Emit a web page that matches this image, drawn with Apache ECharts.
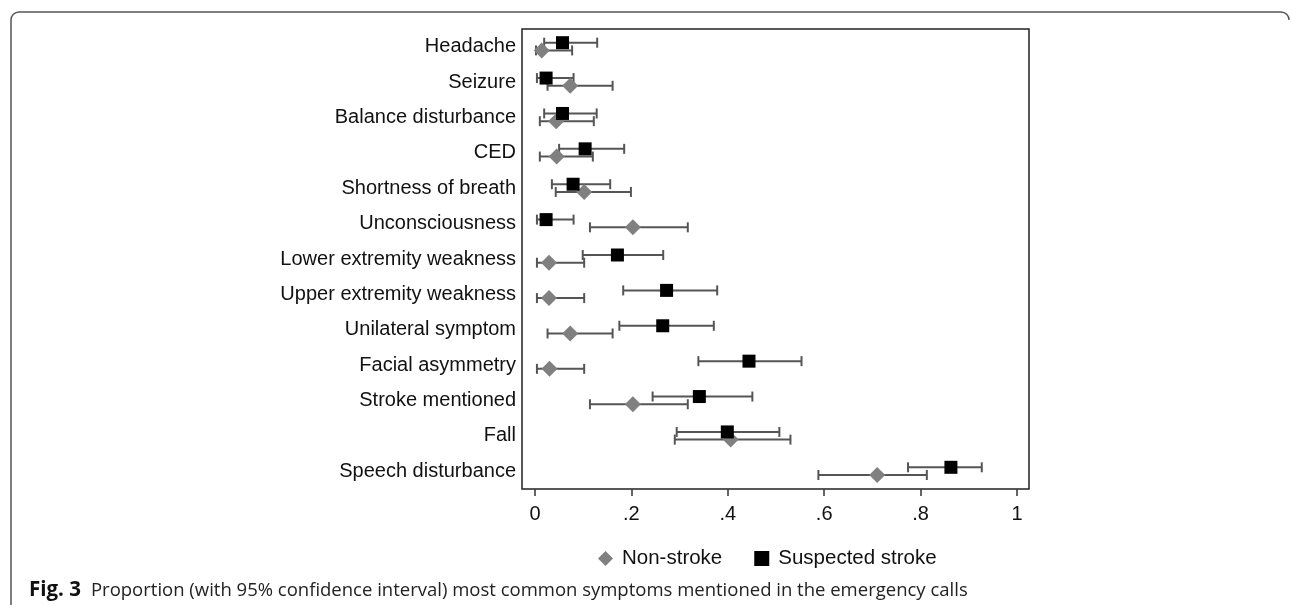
<!DOCTYPE html>
<html>
<head>
<meta charset="utf-8">
<script src="https://cdn.jsdelivr.net/npm/echarts@6/dist/echarts.min.js"></script>
<style>html,body{margin:0;padding:0;background:#fff}#c{width:1292px;height:605px}</style>
</head>
<body>
<div id="c"></div>
<script>
const categories = ['Headache','Seizure','Balance disturbance','CED','Shortness of breath','Unconsciousness','Lower extremity weakness','Upper extremity weakness','Unilateral symptom','Facial asymmetry','Stroke mentioned','Fall','Speech disturbance'];
const nonStroke     = [0.014, 0.073, 0.044, 0.045, 0.102, 0.203, 0.029, 0.029, 0.073, 0.030, 0.203, 0.406, 0.710];
const nonStrokeLow  = [0.002, 0.026, 0.010, 0.010, 0.043, 0.114, 0.004, 0.004, 0.026, 0.004, 0.114, 0.290, 0.588];
const nonStrokeHigh = [0.077, 0.161, 0.122, 0.120, 0.199, 0.317, 0.102, 0.102, 0.161, 0.102, 0.317, 0.530, 0.813];
const suspected     = [0.057, 0.023, 0.057, 0.104, 0.079, 0.023, 0.171, 0.273, 0.265, 0.444, 0.341, 0.399, 0.863];
const suspectedLow  = [0.019, 0.004, 0.019, 0.050, 0.035, 0.004, 0.099, 0.183, 0.175, 0.339, 0.244, 0.294, 0.774];
const suspectedHigh = [0.129, 0.080, 0.128, 0.185, 0.156, 0.080, 0.266, 0.378, 0.371, 0.553, 0.451, 0.507, 0.927];
const xTicks = [0, 0.2, 0.4, 0.6, 0.8, 1];
const seriesNames = ['Non-stroke', 'Suspected stroke'];
const captionLabel = 'Fig. 3';
const captionText = 'Proportion (with 95% confidence interval) most common symptoms mentioned in the emergency calls';

const FONT = '"Liberation Sans", Arial, sans-serif';
const CAPFONT = '"Open Sans", "Noto Sans", sans-serif';
const chart = echarts.init(document.getElementById('c'), null, {renderer: 'canvas'});

function errorBar(dy, color) {
  return function (params, api) {
    const cat = api.value(2);
    const a = api.coord([api.value(0), cat]);
    const b = api.coord([api.value(1), cat]);
    const y = a[1] + dy;
    const h = 5;
    const st = {stroke: color, lineWidth: 2};
    return {
      type: 'group',
      children: [
        {type: 'line', shape: {x1: a[0], y1: y, x2: b[0], y2: y}, style: st},
        {type: 'line', shape: {x1: a[0], y1: y - h, x2: a[0], y2: y + h}, style: st},
        {type: 'line', shape: {x1: b[0], y1: y - h, x2: b[0], y2: y + h}, style: st}
      ]
    };
  };
}

const nsOff = 3.7, ssOff = -4;
const frameStyle = {fill: null, stroke: '#555', lineWidth: 1.5};

chart.setOption({
  animation: false,
  backgroundColor: '#fff',
  grid: {left: 522, right: 263, top: 29, bottom: 116, show: true, borderColor: '#222', borderWidth: 1.5, backgroundColor: 'transparent'},
  xAxis: {
    type: 'value', min: -0.027, max: 1.025,
    axisLine: {show: false},
    splitLine: {show: false},
    axisTick: {show: true, length: 7, lineStyle: {color: '#333', width: 1.5}, customValues: xTicks},
    axisLabel: {
      customValues: xTicks, margin: 15, color: '#111', fontSize: 20, fontFamily: FONT,
      formatter: v => (v === 0 ? '0' : v === 1 ? '1' : String(+v.toFixed(1)).replace(/^0/, ''))
    }
  },
  yAxis: {
    type: 'category', data: categories, inverse: true,
    axisLine: {show: false}, axisTick: {show: false}, splitLine: {show: false},
    axisLabel: {margin: 6, color: '#111', fontSize: 20, fontFamily: FONT}
  },
  legend: {
    data: [{name: seriesNames[0], icon: 'diamond'}, {name: seriesNames[1], icon: 'rect'}],
    left: 593, top: 543, itemWidth: 15, itemHeight: 15, itemGap: 32,
    textStyle: {fontSize: 20.5, color: '#111', fontFamily: FONT, padding: [0, 0, 0, 4]}
  },
  title: {
    left: 29, top: 580, padding: 0,
    text: '{b|' + captionLabel + '}  {n|' + captionText + '}',
    textStyle: {
      fontWeight: 'normal',
      rich: {
        b: {fontWeight: 'bold', fontSize: 20.5, color: '#111', fontFamily: CAPFONT},
        n: {fontWeight: 'normal', fontSize: 18.5, color: '#222', fontFamily: CAPFONT}
      }
    }
  },
  graphic: [
    {type: 'polyline', silent: true, shape: {points: [[11, 605], [11, 20]]}, style: frameStyle},
    {type: 'polyline', silent: true, shape: {points: [[19, 12], [1281, 12]]}, style: frameStyle},
    {type: 'arc', silent: true, shape: {cx: 19, cy: 20, r: 8, startAngle: Math.PI, endAngle: Math.PI * 1.5}, style: frameStyle},
    {type: 'arc', silent: true, shape: {cx: 1281, cy: 20, r: 8, startAngle: Math.PI * 1.5, endAngle: Math.PI * 2}, style: frameStyle}
  ],
  series: [
    {type: 'custom', name: 'nsci', renderItem: errorBar(nsOff, '#555'), encode: {x: [0, 1], y: 2},
     data: nonStrokeLow.map((l, i) => [l, nonStrokeHigh[i], i]), z: 2},
    {type: 'custom', name: 'ssci', renderItem: errorBar(ssOff, '#555'), encode: {x: [0, 1], y: 2},
     data: suspectedLow.map((l, i) => [l, suspectedHigh[i], i]), z: 2},
    {type: 'scatter', name: seriesNames[0], symbol: 'diamond', symbolSize: [16, 16], symbolOffset: [0, nsOff],
     itemStyle: {color: '#808080', opacity: 1}, data: nonStroke.map((v, i) => [v, i]), z: 3},
    {type: 'scatter', name: seriesNames[1], symbol: 'rect', symbolSize: 13, symbolOffset: [0, ssOff],
     itemStyle: {color: '#000', opacity: 1}, data: suspected.map((v, i) => [v, i]), z: 4}
  ]
});
</script>
</body>
</html>
